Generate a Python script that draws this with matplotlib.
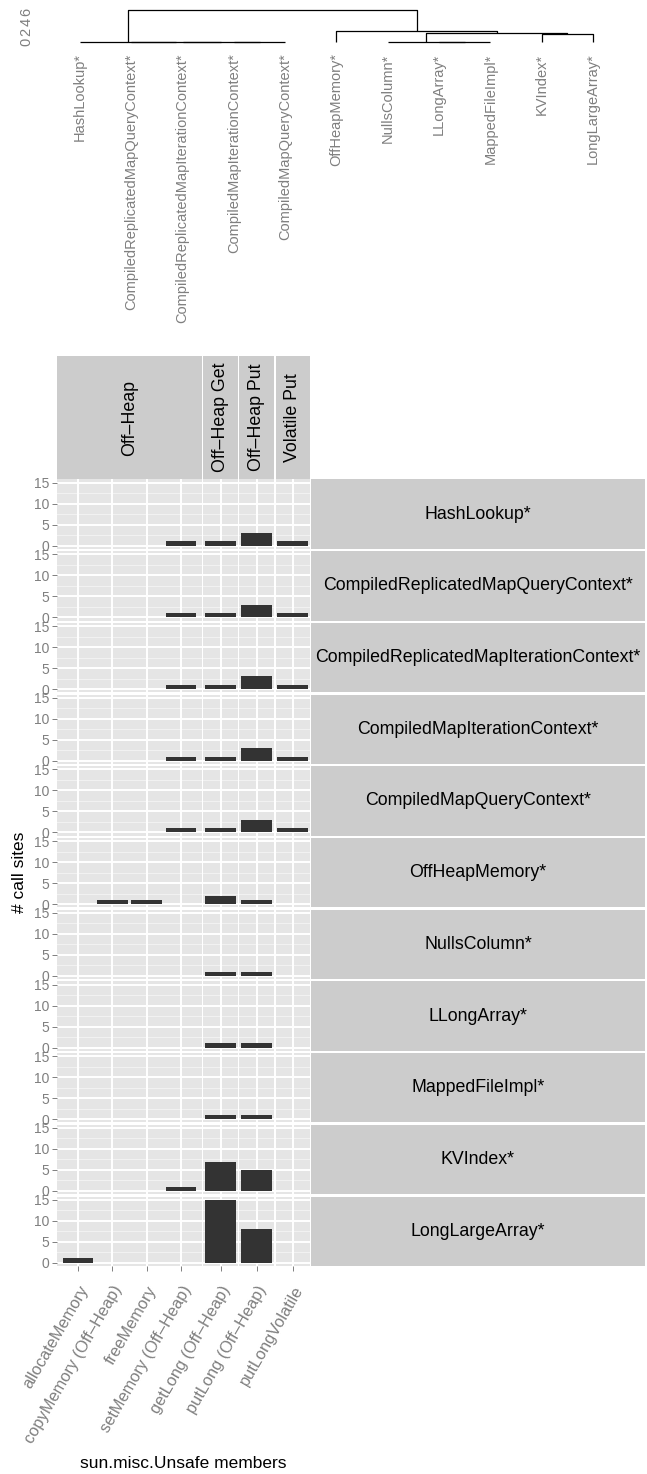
import numpy as np
import matplotlib
matplotlib.use('Agg')
import matplotlib.pyplot as plt

plt.rcParams['font.family'] = ['Liberation Sans', 'DejaVu Sans']

# data
classes = ['HashLookup*', 'CompiledReplicatedMapQueryContext*',
           'CompiledReplicatedMapIterationContext*', 'CompiledMapIterationContext*',
           'CompiledMapQueryContext*', 'OffHeapMemory*', 'NullsColumn*',
           'LLongArray*', 'MappedFileImpl*', 'KVIndex*', 'LongLargeArray*']
members = ['allocateMemory', 'copyMemory (Off\u2013Heap)', 'freeMemory',
           'setMemory (Off\u2013Heap)', 'getLong (Off\u2013Heap)',
           'putLong (Off\u2013Heap)', 'putLongVolatile']
member_group = ['Off\u2013Heap', 'Off\u2013Heap', 'Off\u2013Heap', 'Off\u2013Heap',
                'Off\u2013Heap Get', 'Off\u2013Heap Put', 'Volatile Put']
groups = ['Off\u2013Heap', 'Off\u2013Heap Get', 'Off\u2013Heap Put', 'Volatile Put']

call_sites = [
    [0, 0, 0, 1, 1, 3, 1],
    [0, 0, 0, 1, 1, 3, 1],
    [0, 0, 0, 1, 1, 3, 1],
    [0, 0, 0, 1, 1, 3, 1],
    [0, 0, 0, 1, 1, 3, 1],
    [0, 1, 1, 0, 2, 1, 0],
    [0, 0, 0, 0, 1, 1, 0],
    [0, 0, 0, 0, 1, 1, 0],
    [0, 0, 0, 0, 1, 1, 0],
    [0, 0, 0, 1, 7, 5, 0],
    [1, 0, 0, 0, 15, 8, 0],
]

# hierarchical clustering merges: (child a, child b, height); leaves 0..10, nodes 11..
merges = [
    (3, 4, 0.0),
    (2, 11, 0.0),
    (1, 12, 0.0),
    (0, 13, 0.0),
    (7, 8, 0.0),
    (6, 15, 0.0),
    (9, 10, 1.65),
    (16, 17, 1.8),
    (5, 18, 2.3),
    (14, 19, 6.55),
]
dendro_ticks = [0, 2, 4, 6]

W, H = 647, 1474
fig = plt.figure(figsize=(W / 100, H / 100), dpi=100)


def box(x0, y0, x1, y1):
    # pixel box (top-left origin) -> figure rect
    return [x0 / W, 1 - y1 / H, (x1 - x0) / W, (y1 - y0) / H]


grey_txt = '#7F7F7F'

# ---- dendrogram ----
dax = fig.add_axes(box(54.35, 5, 618.65, 42.3))
n = len(classes)
xpos = {i: i + 1 for i in range(n)}
hgt = {i: 0.0 for i in range(n)}
for k, (a, b, h) in enumerate(merges):
    node = n + k
    xa, xb = xpos[a], xpos[b]
    dax.plot([xa, xa, xb, xb], [hgt[a], h, h, hgt[b]], color='black', lw=0.9,
             clip_on=False, solid_capstyle='butt')
    xpos[node] = (xa + xb) / 2
    hgt[node] = h
dax.set_xlim(0.5, n + 0.5)
dax.set_ylim(0, 37.3 / 5)
for s in dax.spines.values():
    s.set_visible(False)
dax.set_xticks(range(1, n + 1))
dax.set_xticklabels(classes, rotation=90, color=grey_txt, fontsize=10.5)
dax.set_yticks(dendro_ticks)
dax.set_yticklabels([str(t) for t in dendro_ticks], rotation=90, color=grey_txt,
                    fontsize=10.5, va='center')
dax.tick_params(axis='x', length=0, pad=8)
dax.tick_params(axis='y', length=0, pad=15)
dax.patch.set_visible(False)

# ---- facet grid ----
col_px = [(57.3, 201.7), (203.0, 238.3), (239.3, 274.3), (275.6, 310.0)]
unit = 34.3
row_top0, row_step, row_h = 479.5, 71.7, 69.3
strip_top = 356
strip_right = 645

for g, (x0, x1) in enumerate(col_px):
    idx = [j for j in range(len(members)) if member_group[j] == groups[g]]
    half = (x1 - x0) / unit / 2
    center = (len(idx) - 1) / 2

    sax = fig.add_axes(box(x0, strip_top, x1, row_top0 - 0.5))
    sax.set_facecolor('#CCCCCC')
    sax.set_xticks([])
    sax.set_yticks([])
    for s in sax.spines.values():
        s.set_visible(False)
    sax.text(0.5, 0.5, groups[g], rotation=90, ha='center', va='center',
             fontsize=12.8, transform=sax.transAxes)

    for r in range(n):
        y0 = row_top0 + r * row_step
        ax = fig.add_axes(box(x0, y0, x1, y0 + row_h))
        ax.set_facecolor('#E5E5E5')
        vals = [call_sites[r][j] for j in idx]
        ax.set_axisbelow(True)
        for yy in [2.5, 7.5, 12.5]:
            ax.axhline(yy, color='#F2F2F2', lw=0.7, zorder=0)
        ax.bar(range(len(idx)), vals, width=0.9, color='#333333', linewidth=0, zorder=2)
        ax.set_xlim(center - half, center + half)
        ax.set_ylim(-0.75, 15.75)
        ax.set_xticks(range(len(idx)))
        ax.set_yticks([0, 5, 10, 15])
        ax.grid(True, color='white', lw=1.4)
        for s in ax.spines.values():
            s.set_visible(False)
        ax.tick_params(colors=grey_txt, width=0.7, length=3.5, labelsize=10,
                       labelcolor=grey_txt)
        if g == 0:
            ax.tick_params(axis='y', pad=2.5)
        else:
            ax.tick_params(axis='y', left=False, labelleft=False)
        if r == n - 1:
            ax.set_xticklabels([members[j] for j in idx], rotation=60, ha='right',
                               va='top', rotation_mode='anchor', fontsize=11.8)
            ax.tick_params(axis='x', pad=9)
        else:
            ax.tick_params(axis='x', bottom=False, labelbottom=False)

# right strips
for r in range(n):
    y0 = row_top0 + r * row_step
    sax = fig.add_axes(box(311, y0, strip_right, y0 + row_h))
    sax.set_facecolor('#CCCCCC')
    sax.set_xticks([])
    sax.set_yticks([])
    for s in sax.spines.values():
        s.set_visible(False)
    sax.text(0.5, 0.5, classes[r], ha='center', va='center', fontsize=12.8,
             transform=sax.transAxes)

fig.text(20 / W, 1 - 872.7 / H, '# call sites', rotation=90, ha='center',
         va='center', fontsize=12.5)
fig.text(183.6 / W, 1 - 1463 / H, 'sun.misc.Unsafe members', ha='center',
         va='center', fontsize=12.5)

fig.savefig('out.png', dpi=100)
